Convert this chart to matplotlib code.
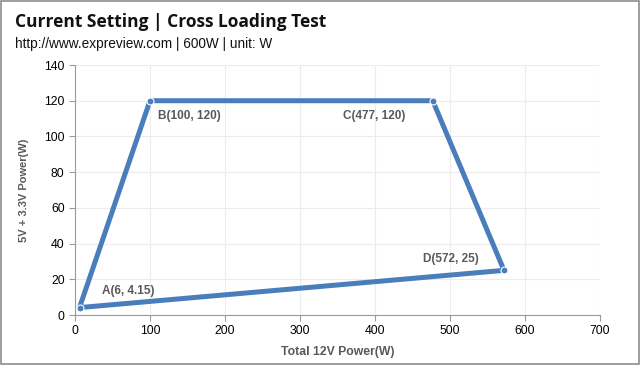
import matplotlib
matplotlib.use('Agg')
import matplotlib.pyplot as plt
from matplotlib.patches import Rectangle

# -----------------------------------------------------------------------------
# data
# -----------------------------------------------------------------------------
point_names = ['A', 'B', 'C', 'D']
p12v = [6, 100, 477, 572]          # total 12V power (W)
p5v33 = [4.15, 120, 120, 25]       # 5V + 3.3V power (W)
x_ticks = [0, 100, 200, 300, 400, 500, 600, 700]
y_ticks = [0, 20, 40, 60, 80, 100, 120, 140]

line_color = '#4a7dbb'
text_color = '#595959'

fig = plt.figure(figsize=(6.4, 3.65), dpi=100)
ax = fig.add_axes([75/640, 50/365, 525/640, 250/365])

# closed polygon A-B-C-D-A
xs = p12v + [p12v[0]]
ys = p5v33 + [p5v33[0]]
ax.plot(xs, ys, color=line_color, linewidth=3.6, solid_capstyle='round',
        zorder=3)
ax.plot(p12v, p5v33, linestyle='none', marker='o', markersize=5,
        markerfacecolor=line_color, markeredgecolor='white',
        markeredgewidth=0.8, zorder=4)

# point labels
offsets = {'A': (16, 12, 'left'), 'B': (6, -11, 'left'),
           'C': (-20, -11, 'right'), 'D': (-18, 8, 'right')}
for name, x, y in zip(point_names, p12v, p5v33):
    dx, dy, ha = offsets[name]
    ax.annotate('{}({}, {})'.format(name, x, y), (x, y),
                xytext=(dx, dy), textcoords='offset points',
                ha=ha, va='center', fontsize=8.5, fontweight='bold',
                color=text_color, family='Liberation Sans')

ax.set_xlim(0, 700)
ax.set_ylim(0, 140)
ax.set_xticks(x_ticks)
ax.set_yticks(y_ticks)
ax.grid(True, color='#ececec', linewidth=0.8)
ax.set_axisbelow(True)
for side in ['top', 'right']:
    ax.spines[side].set_visible(False)
for side in ['left', 'bottom']:
    ax.spines[side].set_color('#9a9a9a')
ax.tick_params(axis='both', colors='#9a9a9a', labelcolor='black',
               labelsize=8.8, length=4, direction='out')
for lab in ax.get_xticklabels() + ax.get_yticklabels():
    lab.set_family('Liberation Sans')

ax.set_xlabel('Total 12V Power(W)', fontsize=8.8, fontweight='bold',
              color=text_color, family='Liberation Sans', labelpad=6)
ax.set_ylabel('5V + 3.3V Power(W)', fontsize=8, fontweight='bold',
              color=text_color, family='Liberation Sans', labelpad=11)

# titles
fig.text(15/640, 1 - 22/365, 'Current Setting | Cross Loading Test',
         fontsize=12.5, fontweight='bold', family='Open Sans', va='center',
         color='#111111')
fig.text(15/640, 1 - 44/365, 'http://www.expreview.com | 600W | unit: W',
         fontsize=9.8, family='Liberation Sans', va='center', color='#111111')

# thin frame around the picture
fig.patches.append(Rectangle((0.001, 0.003), 0.997, 0.994,
                             transform=fig.transFigure, fill=False,
                             edgecolor='#8c8c8c', linewidth=1.2))

fig.savefig('out.png', dpi=100)
